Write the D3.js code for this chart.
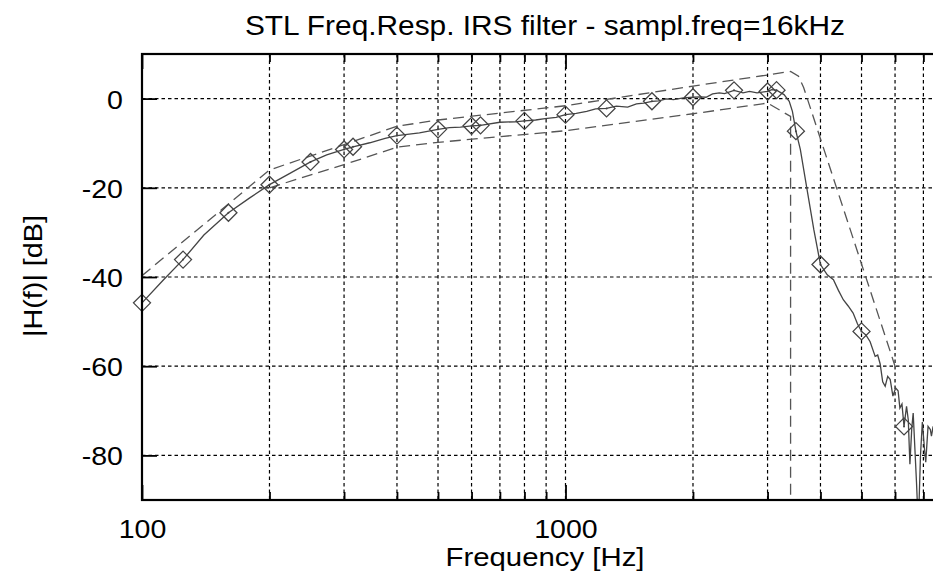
<!DOCTYPE html>
<html>
<head>
<meta charset="utf-8">
<script src="https://cdn.jsdelivr.net/npm/d3@7"></script>
<style>
  html, body { margin: 0; padding: 0; background: #fff; }
  svg { display: block; }
  text { font-family: "Liberation Sans", Arial, Helvetica, sans-serif; fill: #000; }
</style>
</head>
<body>
<svg id="chart" width="933" height="577"></svg>
<script>
// Measured frequency response of the IRS filter (Hz, dB)
const respFreq = [100, 112, 125, 140, 160, 180, 200, 224, 250, 273, 300, 315, 345, 375, 400, 452, 500, 532, 565, 600, 630, 700, 760, 800, 850, 895, 950, 1000, 1060, 1122, 1178, 1250, 1318, 1402, 1471, 1530, 1600, 1660, 1731, 1799, 1899, 2000, 2078, 2147, 2225, 2308, 2374, 2500, 2625, 2720, 2833, 3000, 3070, 3150, 3281, 3375, 3434, 3500, 3585, 3719, 3858, 4000, 4150, 4292, 4410, 4528, 4650, 4777, 4890, 5000, 5120, 5240, 5385, 5460, 5534, 5610, 5687, 5765, 5845, 5930, 6020, 6100, 6160, 6230, 6300, 6387, 6447, 6505, 6570, 6622, 6742, 6810, 6890, 6960, 7048, 7090, 7179, 7270, 7313, 7380, 7450];
const respDb   = [-45.8, -40.8, -36.1, -30.6, -25.6, -22.2, -19.3, -16.7, -14.2, -12.6, -11.4, -10.8, -9.9, -8.9, -8.3, -7.7, -6.9, -6.5, -6.4, -6.1, -6.0, -5.3, -5.2, -5.0, -4.8, -4.5, -4.2, -3.6, -3.3, -2.85, -2.3, -2.2, -1.7, -1.9, -1.2, -1.0, -0.6, -0.5, -0.07, -0.25, 0.15, 0.3, 0.4, 0.3, 1.05, 1.3, 1.1, 1.85, 1.3, 1.6, 1.3, 1.6, 2.0, 1.9, 0.9, -0.6, -2.85, -7.3, -11.4, -20.4, -29.4, -37.2, -39.5, -40.6, -43.0, -45.1, -46.5, -48.1, -50.5, -52.2, -53.0, -54.5, -57.8, -57.5, -59.5, -63.5, -64.5, -62.3, -63.0, -66.7, -64.9, -65.5, -69.4, -68.5, -73.5, -69.0, -72.0, -82.0, -74.0, -70.5, -86.0, -96.0, -80.0, -72.5, -79.0, -81.5, -73.5, -74.2, -75.7, -73.5, -77.0];

// Frequencies carrying a point marker
const markerFreq = [100, 125, 160, 200, 250, 300, 315, 400, 500, 600, 630, 800, 1000, 1250, 1600, 2000, 2500, 3000, 3150, 3500, 4000, 5000, 6300];

// IRS tolerance mask, upper and lower limits
const upperFreq = [100, 200, 300, 400, 500, 1000, 2000, 3000, 3400, 3550, 3650, 6000];
const upperDb   = [-39.7, -16.0, -10.3, -6.2, -4.8, -1.6, 2.8, 5.3, 6.1, 5.0, 2.5, -60.0];
const lowerFreq = [200, 300, 400, 500, 1000, 2000, 3000, 3400, 3400];
const lowerDb   = [-20.0, -14.8, -10.9, -9.8, -7.2, -3.4, -1.0, -4.0, -100.0];

// Axis ticks
const xMajor = [100, 1000];
const xMinor = [200, 300, 400, 500, 600, 700, 800, 900, 2000, 3000, 4000, 5000, 6000, 7000];
const yMajor = [-80, -60, -40, -20, 0];

const titleText = "STL Freq.Resp. IRS filter - sampl.freq=16kHz";
const xLabel = "Frequency [Hz]";
const yLabel = "|H(f)| [dB]";

(function draw() {
  const pL = 142, pT = 54, pB = 500;
  const decade = 423.5;
  const pR = pL + decade * Math.log10(8000 / 100);

  const x = d3.scaleLog().domain([100, 8000]).range([pL, pR]);
  const y = d3.scaleLinear().domain([-90, 10]).range([pB, pT]);

  const svg = d3.select("#chart");
  const stretch = 1.12;
  const plainNum = d => String(d);   // ASCII hyphen for negatives

  svg.append("defs").append("clipPath").attr("id", "plot-clip")
    .append("rect").attr("x", pL).attr("y", pT)
    .attr("width", pR - pL).attr("height", pB - pT);

  // Grid
  const grid = svg.append("g").attr("stroke", "#000").attr("stroke-width", 1.2)
    .attr("stroke-dasharray", "3.5,3");
  grid.selectAll("line.gx").data(xMinor.concat([1000])).join("line")
    .attr("class", "gx")
    .attr("x1", d => x(d)).attr("x2", d => x(d))
    .attr("y1", pT).attr("y2", pB);
  grid.selectAll("line.gy").data(yMajor).join("line")
    .attr("class", "gy")
    .attr("x1", pL).attr("x2", pR)
    .attr("y1", d => y(d)).attr("y2", d => y(d));

  const plot = svg.append("g").attr("clip-path", "url(#plot-clip)");

  // Mask limits
  const maskLine = d3.line().x(d => x(d[0])).y(d => y(d[1]));
  const upper = upperFreq.map((f, i) => [f, upperDb[i]]);
  const lower = lowerFreq.map((f, i) => [f, lowerDb[i]]);
  [upper, lower].forEach(pts => {
    plot.append("path").datum(pts)
      .attr("d", maskLine)
      .attr("fill", "none")
      .attr("stroke", "#555")
      .attr("stroke-width", 1.3)
      .attr("stroke-dasharray", "11,6");
  });

  // Response curve
  const resp = respFreq.map((f, i) => [f, respDb[i]]);
  plot.append("path").datum(resp)
    .attr("d", d3.line().x(d => x(d[0])).y(d => y(d[1])))
    .attr("fill", "none")
    .attr("stroke", "#444")
    .attr("stroke-width", 1.3);

  // Diamond markers
  const markers = markerFreq.map(f => [f, respDb[respFreq.indexOf(f)]]);
  const r = 8.5;
  const mg = svg.append("g");
  mg.selectAll("path").data(markers).join("path")
    .attr("d", d => {
      const cx = x(d[0]), cy = y(d[1]);
      return `M${cx},${cy - r}L${cx + r},${cy}L${cx},${cy + r}L${cx - r},${cy}Z`;
    })
    .attr("fill", "none")
    .attr("stroke", "#444")
    .attr("stroke-width", 1.3);
  mg.selectAll("circle").data(markers).join("circle")
    .attr("cx", d => x(d[0])).attr("cy", d => y(d[1])).attr("r", 1)
    .attr("fill", "#444");

  // Axes
  function styleAxis(g) {
    g.select(".domain").remove();
    g.selectAll(".tick line").attr("stroke", "#000").attr("stroke-width", 1.8);
  }
  svg.append("g").attr("transform", `translate(0,${pB})`)
    .call(d3.axisBottom(x).tickValues(xMinor).tickSizeInner(-8).tickSizeOuter(0).tickFormat(""))
    .call(styleAxis);
  svg.append("g").attr("transform", `translate(0,${pB})`)
    .call(d3.axisBottom(x).tickValues(xMajor).tickSizeInner(-15).tickSizeOuter(0).tickFormat(plainNum))
    .call(styleAxis)
    .call(g => g.selectAll(".tick text")
      .attr("y", 38).attr("dy", 0)
      .attr("font-size", 25.5)
      .attr("font-family", "Liberation Sans, Arial, sans-serif")
      .attr("fill", "#000")
      .attr("transform", `scale(${stretch},1)`));
  svg.append("g").attr("transform", `translate(0,${pT})`)
    .call(d3.axisTop(x).tickValues(xMinor).tickSizeInner(-8).tickSizeOuter(0).tickFormat(""))
    .call(styleAxis);
  svg.append("g").attr("transform", `translate(0,${pT})`)
    .call(d3.axisTop(x).tickValues(xMajor).tickSizeInner(-15).tickSizeOuter(0).tickFormat(""))
    .call(styleAxis);
  svg.append("g").attr("transform", `translate(${pL},0)`)
    .call(d3.axisLeft(y).tickValues(yMajor).tickSizeInner(-15).tickSizeOuter(0).tickFormat(plainNum))
    .call(styleAxis)
    .call(g => g.selectAll(".tick text")
      .attr("x", -19 / stretch).attr("y", 9.5).attr("dy", 0)
      .attr("font-size", 25.5)
      .attr("font-family", "Liberation Sans, Arial, sans-serif")
      .attr("fill", "#000")
      .attr("transform", `scale(${stretch},1)`));

  // Frame
  svg.append("rect")
    .attr("x", pL).attr("y", pT)
    .attr("width", pR - pL).attr("height", pB - pT)
    .attr("fill", "none").attr("stroke", "#000").attr("stroke-width", 2.2);

  // Titles
  svg.append("text")
    .attr("x", (pL + pR) / 2).attr("y", 35)
    .attr("text-anchor", "middle")
    .attr("font-size", 27)
    .attr("textLength", 600).attr("lengthAdjust", "spacingAndGlyphs")
    .text(titleText);
  svg.append("text")
    .attr("x", (pL + pR) / 2).attr("y", 566)
    .attr("text-anchor", "middle")
    .attr("font-size", 26.5)
    .attr("textLength", 199).attr("lengthAdjust", "spacingAndGlyphs")
    .text(xLabel);
  svg.append("text")
    .attr("transform", "translate(41.5,276) rotate(-90)")
    .attr("text-anchor", "middle")
    .attr("font-size", 26.5)
    .attr("textLength", 122).attr("lengthAdjust", "spacingAndGlyphs")
    .text(yLabel);
})();
</script>
</body>
</html>
